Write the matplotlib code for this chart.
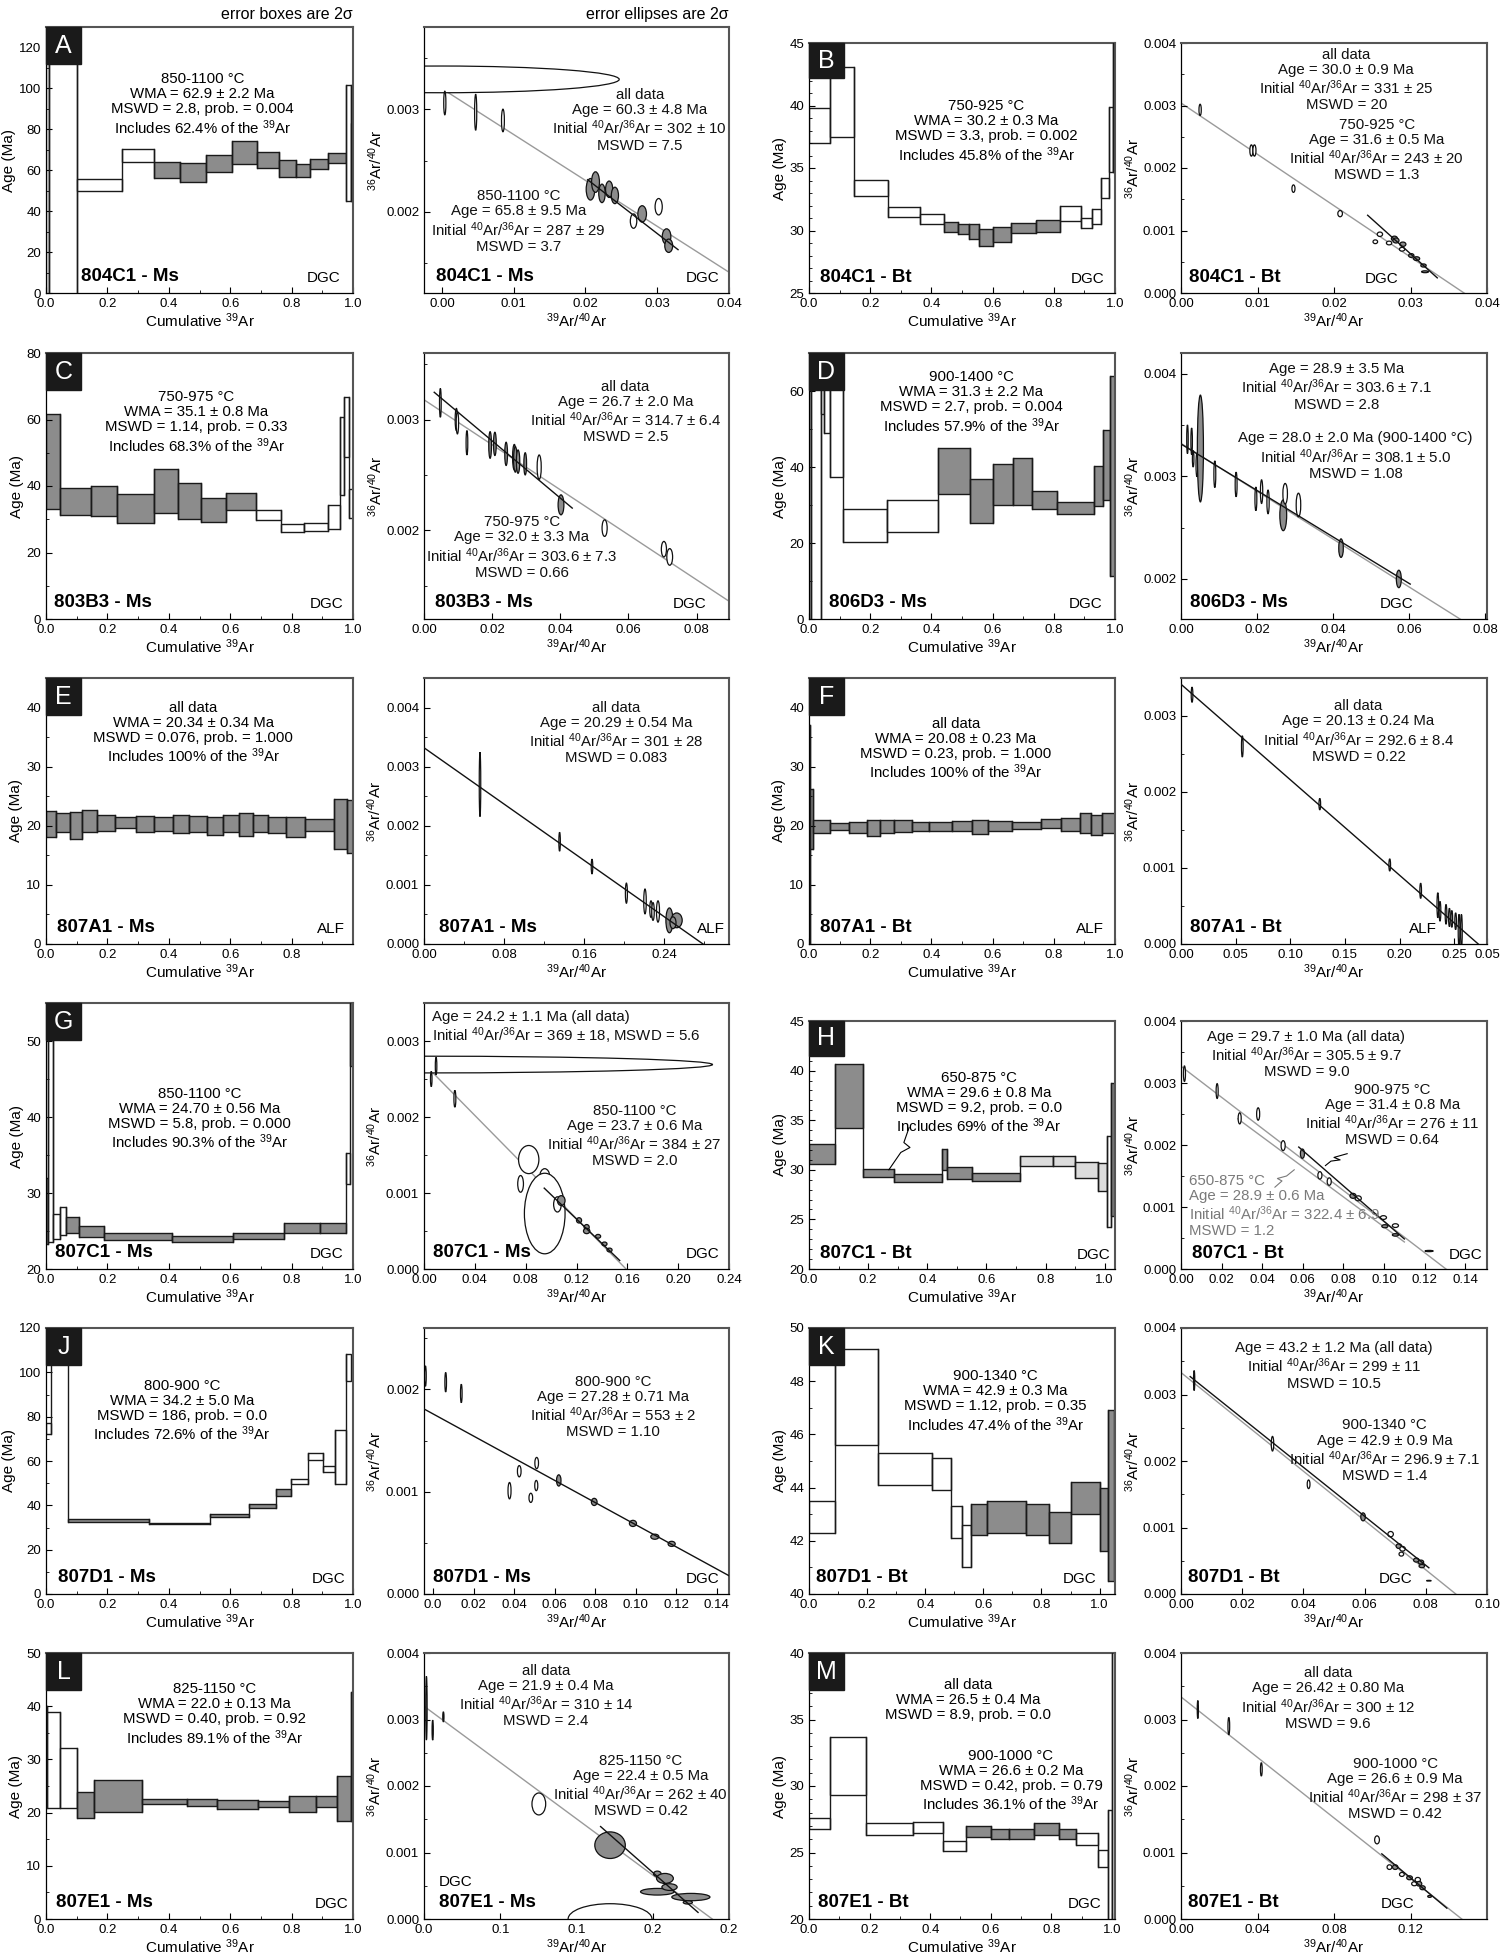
import numpy as np
import matplotlib.pyplot as plt
from matplotlib import font_manager
from matplotlib.patches import Rectangle, Ellipse
from matplotlib.ticker import MultipleLocator, FixedLocator, FixedFormatter, FormatStrFormatter

names = {f.name for f in font_manager.fontManager.ttflist}
FONT = 'Liberation Sans' if 'Liberation Sans' in names else 'DejaVu Sans'
plt.rcParams['font.family'] = [FONT, 'DejaVu Sans']
plt.rcParams['mathtext.fontset'] = 'custom'
plt.rcParams['mathtext.rm'] = FONT
plt.rcParams['mathtext.it'] = FONT
plt.rcParams['mathtext.bf'] = FONT + ':bold'
plt.rcParams['mathtext.default'] = 'regular'
plt.rcParams['xtick.direction'] = 'in'
plt.rcParams['ytick.direction'] = 'in'
plt.rcParams['xtick.labelsize'] = 9.5
plt.rcParams['ytick.labelsize'] = 9.5
plt.rcParams['xtick.major.size'] = 4
plt.rcParams['ytick.major.size'] = 4
plt.rcParams['xtick.minor.size'] = 2.5
plt.rcParams['ytick.minor.size'] = 2.5

TXT = 10.8
AXLAB = 11
SUP39 = '$^{39}$Ar'
RATIO = 'Initial $^{40}$Ar/$^{36}$Ar'

# ---------------- age spectra: step edges (cumulative 39Ar), 2 sigma box limits (Ma), fill code
A_edges = [0, 0.01, 0.10, 0.246, 0.351, 0.437, 0.52, 0.605, 0.687, 0.759, 0.814, 0.859, 0.917, 0.976, 0.992, 1.0]
A_lo = [-10, -10, 49.8, 64.2, 56.3, 54.4, 59, 63, 61.2, 56.8, 56.7, 60.4, 63.3, 44.9, 45]
A_hi = [300, 300, 55.5, 70.2, 64, 63.3, 67.3, 74.3, 68.9, 64.8, 63, 65.6, 68.6, 101.7, 83]
A_fill = [0, 0, 0, 0, 1, 1, 1, 1, 1, 1, 1, 1, 1, 0, 1]

B_edges = [0, 0.069, 0.146, 0.257, 0.362, 0.441, 0.488, 0.524, 0.556, 0.6, 0.661, 0.742, 0.82, 0.89, 0.926, 0.953, 0.981, 0.993, 1.0]
B_lo = [37.0, 37.5, 32.8, 31.1, 30.5, 29.9, 29.7, 29.3, 28.8, 29.1, 29.8, 29.9, 30.8, 30.2, 30.5, 32.6, 34.7, 34.7]
B_hi = [39.8, 43.1, 34.0, 31.9, 31.3, 30.7, 30.5, 30.5, 30.1, 30.3, 30.6, 30.8, 32.0, 31.0, 31.7, 34.2, 39.9, 60]
B_fill = [0, 0, 0, 0, 0, 1, 1, 1, 1, 1, 1, 1, 0, 0, 0, 0, 0, 0]

C_edges = [0, 0.044, 0.147, 0.232, 0.351, 0.431, 0.504, 0.586, 0.684, 0.766, 0.842, 0.918, 0.957, 0.97, 0.987, 1.0]
C_lo = [33.2, 31.2, 30.9, 28.9, 31.9, 30.0, 29.2, 32.9, 29.7, 26.1, 26.5, 27.1, 37.2, 48.8, 30.4]
C_hi = [61.6, 39.4, 40.0, 37.7, 45.1, 40.9, 36.4, 38.0, 32.9, 28.7, 29.0, 34.2, 60.9, 66.9, 39.2]
C_fill = [1, 1, 1, 1, 1, 1, 1, 1, 0, 0, 0, 0, 0, 0, 0]

D_edges = [0, 0.008, 0.04, 0.048, 0.067, 0.11, 0.255, 0.423, 0.525, 0.6, 0.668, 0.73, 0.809, 0.933, 0.961, 0.984, 1.0]
D_lo = [-10, -10, 54, 49, 37.3, 20.2, 22.8, 33, 25.3, 30, 30, 29, 27.6, 29.7, 31.4, 11.4]
D_hi = [200, 200, 200, 200, 200, 29, 31.4, 45.1, 36.9, 40.9, 42.4, 33.8, 30.8, 40.2, 49.8, 64]
D_fill = [0, 0, 0, 0, 0, 0, 0, 1, 1, 1, 1, 1, 1, 1, 1, 1]

E_edges = [0, 0.032, 0.079, 0.116, 0.166, 0.225, 0.293, 0.353, 0.415, 0.467, 0.525, 0.575, 0.629, 0.673, 0.724, 0.781, 0.845, 0.938, 0.982, 1.0]
E_lo = [18.1, 18.9, 17.8, 18.9, 19.1, 19.6, 18.9, 19.1, 18.8, 18.9, 18.4, 18.9, 18.2, 18.9, 18.8, 18.1, 19.2, 16.1, 15.4]
E_hi = [22.5, 22.1, 22.3, 22.6, 21.8, 21.5, 21.6, 21.5, 21.9, 21.7, 21.5, 21.8, 22.2, 21.9, 21.5, 21.5, 21.2, 24.6, 24.4]
E_fill = [1] * 19

F_edges = [0, 0.004, 0.012, 0.067, 0.13, 0.188, 0.232, 0.279, 0.337, 0.392, 0.467, 0.534, 0.585, 0.663, 0.757, 0.824, 0.887, 0.922, 0.958, 1.0]
F_lo = [-10, 16, 18.8, 19.3, 18.8, 18.2, 18.8, 18.9, 19.1, 19.2, 19.1, 18.6, 19.1, 19.5, 19.7, 19.2, 18.8, 18.5, 18.8]
F_hi = [37, 26.3, 20.9, 20.4, 20.6, 21.0, 21.0, 20.9, 20.7, 20.6, 20.8, 20.9, 20.8, 20.7, 21.2, 21.3, 22.2, 21.8, 22.2]
F_fill = [0] + [1] * 18

G_edges = [0, 0.005, 0.022, 0.044, 0.066, 0.108, 0.19, 0.411, 0.609, 0.775, 0.894, 0.976, 0.99, 1.0]
G_lo = [23.3, 23.6, 23.9, 24.5, 24.8, 24.2, 23.8, 23.5, 23.9, 24.8, 24.8, 31.2, 46.7]
G_hi = [32.0, 50.5, 27.2, 28.2, 26.9, 25.6, 24.7, 24.4, 24.8, 26.0, 26.0, 35.2, 60]
G_fill = [1, 0, 0, 0, 1, 1, 1, 1, 1, 1, 1, 0, 1]

H_edges = [0, 0.089, 0.184, 0.289, 0.449, 0.468, 0.553, 0.715, 0.826, 0.9, 0.976, 1.008, 1.02, 1.03]
H_lo = [30.6, 34.2, 29.3, 28.8, 30.0, 29.1, 28.9, 30.4, 30.4, 29.2, 27.9, 24.2, 25.3]
H_hi = [32.6, 40.7, 30.1, 29.6, 32.1, 30.3, 29.7, 31.4, 31.4, 30.8, 30.7, 33.4, 38.7]
H_fill = [1, 1, 1, 1, 1, 1, 1, 2, 2, 2, 2, 0, 1]

J_edges = [0, 0.016, 0.071, 0.335, 0.535, 0.661, 0.748, 0.799, 0.854, 0.902, 0.941, 0.976, 0.995]
J_lo = [72.4, 125, 32.7, 31.5, 34.9, 39, 44.3, 49.5, 60.5, 55, 49.5, 96]
J_hi = [77.2, 300, 34, 32.2, 36, 40.8, 47.3, 52, 63.8, 57.7, 73.8, 108.3]
J_fill = [0, 0, 1, 1, 1, 1, 1, 0, 0, 0, 0, 0]

K_edges = [0, 0.088, 0.237, 0.423, 0.489, 0.527, 0.556, 0.614, 0.746, 0.826, 0.9, 1.0, 1.028, 1.05]
K_lo = [42.3, 45.6, 44.1, 43.9, 42.1, 41.0, 42.2, 42.3, 42.2, 41.9, 43.0, 41.6, 40.5]
K_hi = [43.5, 49.2, 45.3, 45.1, 43.3, 42.6, 43.4, 43.5, 43.4, 43.1, 44.2, 44.0, 46.9]
K_fill = [0, 0, 0, 0, 0, 0, 1, 1, 1, 1, 1, 1, 1]

L_edges = [0, 0.004, 0.044, 0.1, 0.156, 0.314, 0.46, 0.556, 0.692, 0.79, 0.878, 0.949, 0.995, 1.0]
L_lo = [21, 20.9, 20.9, 18.9, 20.1, 21.6, 21.3, 20.7, 21.0, 20.1, 21.0, 18.4, 18.5]
L_hi = [40, 39.0, 32.2, 23.8, 26.2, 22.5, 22.6, 22.4, 22.1, 23.1, 23.1, 26.9, 42.7]
L_fill = [1, 0, 0, 1, 1, 1, 1, 1, 1, 1, 1, 1, 1]

M_edges = [0, 0.068, 0.188, 0.342, 0.443, 0.518, 0.602, 0.661, 0.742, 0.825, 0.88, 0.955, 0.987, 1.0, 1.01]
M_lo = [26.8, 29.3, 26.3, 26.5, 25.1, 26.2, 26.0, 26.0, 26.3, 26.0, 25.6, 23.9, 19.0, 19.0]
M_hi = [27.6, 33.7, 27.2, 27.3, 25.9, 27.0, 26.8, 26.8, 27.2, 26.8, 26.5, 25.2, 28.2, 45]
M_fill = [0, 0, 0, 0, 0, 1, 1, 1, 1, 1, 0, 0, 0, 0]

# ---------------- isochrons: ellipse centres, 2 sigma widths/heights, fill code; fits (y-intercept, x-intercept, x from, x to)
a_x = [0.0, 0.0004, 0.0047, 0.0085, 0.0207, 0.0214, 0.0223, 0.0233, 0.0241, 0.0279, 0.0313, 0.0316, 0.0267, 0.0302]
a_y = [0.00329, 0.00306, 0.00297, 0.00289, 0.00222, 0.00229, 0.00218, 0.00222, 0.00216, 0.00198, 0.00176, 0.00167, 0.00191, 0.00205]
a_w = [0.0494, 0.0003, 0.0003, 0.0004, 0.0012, 0.0011, 0.0009, 0.001, 0.001, 0.0012, 0.0012, 0.0011, 0.0009, 0.001]
a_h = [0.00026, 0.00023, 0.00035, 0.00022, 0.00021, 0.0002, 0.00018, 0.00016, 0.00016, 0.00016, 0.00015, 0.00013, 0.00014, 0.00016]
a_f = [0, 0, 0, 0, 1, 1, 1, 1, 1, 1, 1, 1, 0, 0]
a_fit = [(0.0032, 0.0716, -0.003, 0.04), (0.00341, 0.0631, 0.0203, 0.0329)]
a_kind = [0, 1]

b_x = [0.0025, 0.0092, 0.0096, 0.0147, 0.0208, 0.0254, 0.026, 0.0272, 0.0279, 0.0281, 0.0289, 0.029, 0.0301, 0.0308, 0.0317, 0.0319]
b_y = [0.00293, 0.00228, 0.00228, 0.00167, 0.00127, 0.00082, 0.00094, 0.0008, 0.00087, 0.00084, 0.0007, 0.00078, 0.0006, 0.00055, 0.00044, 0.00034]
b_w = [0.0003, 0.0004, 0.0004, 0.0004, 0.0006, 0.0006, 0.0007, 0.0007, 0.0008, 0.0008, 0.0007, 0.0008, 0.0007, 0.0008, 0.0007, 0.0009]
b_h = [0.00018, 0.00018, 0.00018, 0.00012, 0.0001, 0.00006, 0.00007, 0.00006, 0.00008, 0.00008, 0.00006, 0.00007, 0.00006, 0.00006, 0.00005, 0.00003]
b_f = [0, 0, 0, 0, 0, 0, 0, 0, 1, 1, 0, 1, 1, 1, 1, 1]
b_fit = [(0.00304, 0.037, 0, 0.04), (0.00393, 0.0357, 0.0244, 0.0335)]
b_kind = [0, 1]

c_x = [0.0048, 0.0095, 0.0098, 0.0126, 0.0194, 0.0208, 0.0241, 0.0265, 0.0268, 0.0276, 0.0297, 0.0338, 0.0402, 0.053, 0.0704, 0.0721]
c_y = [0.00315, 0.0030, 0.00297, 0.00279, 0.00277, 0.00278, 0.00269, 0.00266, 0.00264, 0.00262, 0.0026, 0.00257, 0.00223, 0.00202, 0.00183, 0.00176]
c_w = [0.0005, 0.0007, 0.0007, 0.0005, 0.0008, 0.0008, 0.0008, 0.001, 0.001, 0.001, 0.0008, 0.0012, 0.0017, 0.0015, 0.0015, 0.0017]
c_h = [0.00026, 0.0002, 0.0002, 0.00022, 0.00024, 0.00021, 0.00021, 0.00023, 0.00023, 0.00021, 0.0002, 0.00022, 0.00018, 0.00015, 0.00014, 0.00015]
c_f = [0, 0, 0, 0, 1, 1, 1, 1, 1, 1, 1, 0, 1, 0, 0, 0]
c_fit = [(0.003178, 0.1565, 0, 0.09), (0.003323, 0.1288, 0.003, 0.0435)]
c_kind = [0, 1]

d_x = [0.0017, 0.0028, 0.0032, 0.0042, 0.0051, 0.0089, 0.0145, 0.0197, 0.0212, 0.0229, 0.0269, 0.0274, 0.0309, 0.0421, 0.0573]
d_y = [0.00336, 0.00334, 0.00317, 0.00311, 0.00327, 0.00302, 0.00292, 0.00278, 0.00285, 0.00275, 0.00262, 0.00283, 0.00272, 0.0023, 0.0020]
d_w = [0.0004, 0.0004, 0.0004, 0.0005, 0.0016, 0.0005, 0.0005, 0.0005, 0.0006, 0.0006, 0.0018, 0.0012, 0.0012, 0.0012, 0.0013]
d_h = [0.00028, 0.00026, 0.00016, 0.00023, 0.00104, 0.00026, 0.00024, 0.00023, 0.00023, 0.00023, 0.0003, 0.0002, 0.00023, 0.00018, 0.00017]
d_f = [0, 0, 0, 0, 1, 0, 0, 0, 0, 0, 1, 0, 0, 1, 1]
d_fit = [(0.00332, 0.1425, 0, 0.081), (0.003314, 0.1465, 0, 0.0603)]
d_kind = [0, 1]

e_x = [0.056, 0.1356, 0.168, 0.2024, 0.221, 0.227, 0.229, 0.234, 0.2454, 0.2527, 0.249]
e_y = [0.0027, 0.00173, 0.00131, 0.00086, 0.00072, 0.00059, 0.00055, 0.00055, 0.0004, 0.0004, 0.00036]
e_w = [0.0015, 0.0015, 0.0015, 0.002, 0.0025, 0.0025, 0.0025, 0.003, 0.007, 0.011, 0.006]
e_h = [0.00109, 0.00032, 0.00025, 0.00034, 0.00042, 0.00028, 0.0003, 0.00036, 0.00042, 0.00025, 0.0002]
e_f = [0, 0, 0, 0, 0, 0, 0, 0, 1, 1, 1]
e_fit = [(0.00332, 0.279, 0, 0.305)]
e_kind = [1]

f_x = [0.0101, 0.0561, 0.127, 0.191, 0.2193, 0.235, 0.237, 0.2425, 0.2456, 0.2478, 0.2513, 0.2544, 0.2566]
f_y = [0.00328, 0.0026, 0.00184, 0.00104, 0.0007, 0.00051, 0.00043, 0.00039, 0.00035, 0.00033, 0.0003, 0.00018, 0.00017]
f_w = [0.0015] * 13
f_h = [0.0002, 0.00028, 0.00015, 0.00016, 0.0002, 0.00033, 0.00026, 0.00026, 0.00024, 0.00022, 0.00022, 0.00042, 0.00044]
f_f = [0] * 13
f_fit = [(0.003418, 0.272, 0, 0.28)]
f_kind = [1]

g_x = [0.0, 0.0095, 0.0057, 0.0243, 0.0824, 0.076, 0.095, 0.095, 0.105, 0.108, 0.122, 0.128, 0.128, 0.137, 0.142, 0.146]
g_y = [0.00269, 0.00267, 0.0025, 0.00224, 0.00144, 0.00112, 0.00121, 0.00073, 0.00085, 0.0009, 0.00064, 0.00055, 0.0005, 0.00043, 0.00033, 0.00025]
g_w = [0.454, 0.0012, 0.0012, 0.0015, 0.016, 0.0045, 0.008, 0.032, 0.006, 0.006, 0.004, 0.004, 0.005, 0.004, 0.004, 0.004]
g_h = [0.00022, 0.00023, 0.0002, 0.00022, 0.00037, 0.00022, 0.00022, 0.00106, 0.0002, 0.00013, 0.00007, 0.00007, 0.00007, 0.00005, 0.00005, 0.00005]
g_f = [0, 0, 0, 0, 0, 0, 0, 0, 0, 1, 1, 1, 1, 1, 1, 1]
g_fit = [(0.0027, 0.159, 0, 0.24), (0.00258, 0.161, 0.0946, 0.154)]
g_kind = [0, 1]

h_x = [0.0017, 0.0178, 0.0289, 0.038, 0.0503, 0.0598, 0.0684, 0.073, 0.0847, 0.0873, 0.0997, 0.1004, 0.1056, 0.1056, 0.1222]
h_y = [0.00315, 0.00287, 0.00243, 0.0025, 0.00199, 0.00186, 0.00151, 0.00141, 0.00118, 0.00114, 0.00083, 0.00069, 0.0007, 0.00055, 0.00029]
h_w = [0.001, 0.001, 0.0015, 0.0015, 0.002, 0.002, 0.002, 0.002, 0.003, 0.003, 0.003, 0.003, 0.003, 0.003, 0.004]
h_h = [0.00025, 0.00024, 0.00018, 0.0002, 0.00016, 0.00015, 0.00012, 0.00012, 0.00008, 0.00008, 0.00006, 0.00005, 0.00006, 0.00004, 0.00002]
h_f = [0, 0, 0, 0, 0, 1, 0, 0, 1, 0, 0, 1, 0, 1, 0]
h_fit = [(0.00327, 0.1305, 0, 0.15), (0.0031, 0.128, 0.028, 0.11), (0.00362, 0.127, 0.058, 0.11)]
h_kind = [0, 0, 1]

j_x = [-0.0038, 0.0062, 0.0139, 0.0377, 0.0425, 0.0482, 0.0509, 0.0511, 0.062, 0.0795, 0.0986, 0.1094, 0.1177]
j_y = [0.00213, 0.00207, 0.00196, 0.00101, 0.0012, 0.00094, 0.00106, 0.00128, 0.00111, 0.0009, 0.00069, 0.00056, 0.00049]
j_w = [0.0008, 0.0008, 0.0008, 0.0015, 0.0018, 0.0018, 0.0015, 0.0018, 0.0022, 0.0028, 0.0035, 0.004, 0.0035]
j_h = [0.0002, 0.00019, 0.00018, 0.00016, 0.00011, 0.00009, 0.0001, 0.00011, 0.00011, 0.00007, 0.00006, 0.00005, 0.00005]
j_f = [0, 0, 0, 0, 0, 0, 0, 0, 1, 1, 1, 1, 1]
j_fit = [(0.00176, 0.1625, -0.0045, 0.146)]
j_kind = [1]

k_x = [0.0043, 0.0299, 0.0417, 0.0595, 0.0685, 0.0712, 0.0724, 0.072, 0.0769, 0.0784, 0.0787, 0.081]
k_y = [0.00321, 0.00226, 0.00165, 0.00116, 0.0009, 0.00072, 0.00068, 0.0006, 0.00051, 0.00048, 0.00042, 0.0002]
k_w = [0.0004, 0.0008, 0.0009, 0.0015, 0.0018, 0.0018, 0.0018, 0.0015, 0.0018, 0.0018, 0.0018, 0.0015]
k_h = [0.0003, 0.00022, 0.00013, 0.00012, 0.00008, 0.00007, 0.00007, 0.00006, 0.00006, 0.00006, 0.00005, 0.00001]
k_f = [0, 0, 0, 1, 0, 1, 0, 0, 1, 1, 1, 1]
k_fit = [(0.00333, 0.0898, 0, 0.1), (0.00338, 0.0917, 0.003, 0.081)]
k_kind = [0, 1]

l_x = [0.0016, 0.0057, 0.0127, 0.0753, 0.122, 0.153, 0.158, 0.153, 0.161, 0.175, 0.173, 0.122]
l_y = [0.00317, 0.00284, 0.00304, 0.00173, 0.00111, 0.00068, 0.00061, 0.00041, 0.00048, 0.00033, 0.00025, 0.0]
l_w = [0.0009, 0.0008, 0.0008, 0.009, 0.02, 0.005, 0.011, 0.022, 0.01, 0.025, 0.006, 0.055]
l_h = [0.00096, 0.0003, 0.00015, 0.00033, 0.0004, 0.00008, 0.00015, 0.0001, 0.0001, 0.00011, 0.00005, 0.00046]
l_f = [0, 0, 0, 0, 1, 1, 1, 1, 1, 1, 1, 0]
l_fit = [(0.0032, 0.189, 0, 0.2), (0.00373, 0.1846, 0.1158, 0.1797)]
l_kind = [0, 1]

m_x = [0.0088, 0.025, 0.042, 0.1025, 0.109, 0.112, 0.1155, 0.1195, 0.122, 0.1238, 0.1245, 0.1263, 0.13]
m_y = [0.00315, 0.0029, 0.00225, 0.00119, 0.00078, 0.00078, 0.00067, 0.00062, 0.00053, 0.00059, 0.00053, 0.00047, 0.00034]
m_w = [0.0006, 0.0009, 0.0009, 0.0025, 0.0025, 0.0028, 0.0025, 0.003, 0.0028, 0.0028, 0.0028, 0.0028, 0.002]
m_h = [0.00027, 0.00026, 0.0002, 0.00012, 0.00007, 0.00007, 0.00006, 0.00006, 0.00006, 0.00007, 0.00007, 0.00006, 0.00003]
m_f = [0, 0, 0, 0, 0, 1, 0, 1, 0, 0, 1, 1, 1]
m_fit = [(0.00334, 0.1468, 0, 0.16), (0.0035, 0.1458, 0.105, 0.139)]
m_kind = [0, 1]

# ---------------- panel texts
A_txt = '850-1100 °C\nWMA = 62.9 ± 2.2 Ma\nMSWD = 2.8, prob. = 0.004\nIncludes 62.4% of the ' + SUP39
a_txt1 = 'all data\nAge = 60.3 ± 4.8 Ma\n' + RATIO + ' = 302 ± 10\nMSWD = 7.5'
a_txt2 = '850-1100 °C\nAge = 65.8 ± 9.5 Ma\n' + RATIO + ' = 287 ± 29\nMSWD = 3.7'
B_txt = '750-925 °C\nWMA = 30.2 ± 0.3 Ma\nMSWD = 3.3, prob. = 0.002\nIncludes 45.8% of the ' + SUP39
b_txt1 = 'all data\nAge = 30.0 ± 0.9 Ma\n' + RATIO + ' = 331 ± 25\nMSWD = 20'
b_txt2 = '750-925 °C\nAge = 31.6 ± 0.5 Ma\n' + RATIO + ' = 243 ± 20\nMSWD = 1.3'
C_txt = '750-975 °C\nWMA = 35.1 ± 0.8 Ma\nMSWD = 1.14, prob. = 0.33\nIncludes 68.3% of the ' + SUP39
c_txt1 = 'all data\nAge = 26.7 ± 2.0 Ma\n' + RATIO + ' = 314.7 ± 6.4\nMSWD = 2.5'
c_txt2 = '750-975 °C\nAge = 32.0 ± 3.3 Ma\n' + RATIO + ' = 303.6 ± 7.3\nMSWD = 0.66'
D_txt = '900-1400 °C\nWMA = 31.3 ± 2.2 Ma\nMSWD = 2.7, prob. = 0.004\nIncludes 57.9% of the ' + SUP39
d_txt1 = 'Age = 28.9 ± 3.5 Ma\n' + RATIO + ' = 303.6 ± 7.1\nMSWD = 2.8'
d_txt2 = 'Age = 28.0 ± 2.0 Ma (900-1400 °C)\n' + RATIO + ' = 308.1 ± 5.0\nMSWD = 1.08'
E_txt = 'all data\nWMA = 20.34 ± 0.34 Ma\nMSWD = 0.076, prob. = 1.000\nIncludes 100% of the ' + SUP39
e_txt1 = 'all data\nAge = 20.29 ± 0.54 Ma\n' + RATIO + ' = 301 ± 28\nMSWD = 0.083'
F_txt = 'all data\nWMA = 20.08 ± 0.23 Ma\nMSWD = 0.23, prob. = 1.000\nIncludes 100% of the ' + SUP39
f_txt1 = 'all data\nAge = 20.13 ± 0.24 Ma\n' + RATIO + ' = 292.6 ± 8.4\nMSWD = 0.22'
G_txt = '850-1100 °C\nWMA = 24.70 ± 0.56 Ma\nMSWD = 5.8, prob. = 0.000\nIncludes 90.3% of the ' + SUP39
g_txt1 = 'Age = 24.2 ± 1.1 Ma (all data)\n' + RATIO + ' = 369 ± 18, MSWD = 5.6'
g_txt2 = '850-1100 °C\nAge = 23.7 ± 0.6 Ma\n' + RATIO + ' = 384 ± 27\nMSWD = 2.0'
H_txt = '650-875 °C\nWMA = 29.6 ± 0.8 Ma\nMSWD = 9.2, prob. = 0.0\nIncludes 69% of the ' + SUP39
h_txt1 = 'Age = 29.7 ± 1.0 Ma (all data)\n' + RATIO + ' = 305.5 ± 9.7\nMSWD = 9.0'
h_txt2 = '900-975 °C\nAge = 31.4 ± 0.8 Ma\n' + RATIO + ' = 276 ± 11\nMSWD = 0.64'
h_txt3 = '650-875 °C\nAge = 28.9 ± 0.6 Ma\n' + RATIO + ' = 322.4 ± 6.9\nMSWD = 1.2'
J_txt = '800-900 °C\nWMA = 34.2 ± 5.0 Ma\nMSWD = 186, prob. = 0.0\nIncludes 72.6% of the ' + SUP39
j_txt1 = '800-900 °C\nAge = 27.28 ± 0.71 Ma\n' + RATIO + ' = 553 ± 2\nMSWD = 1.10'
K_txt = '900-1340 °C\nWMA = 42.9 ± 0.3 Ma\nMSWD = 1.12, prob. = 0.35\nIncludes 47.4% of the ' + SUP39
k_txt1 = 'Age = 43.2 ± 1.2 Ma (all data)\n' + RATIO + ' = 299 ± 11\nMSWD = 10.5'
k_txt2 = '900-1340 °C\nAge = 42.9 ± 0.9 Ma\n' + RATIO + ' = 296.9 ± 7.1\nMSWD = 1.4'
L_txt = '825-1150 °C\nWMA = 22.0 ± 0.13 Ma\nMSWD = 0.40, prob. = 0.92\nIncludes 89.1% of the ' + SUP39
l_txt1 = 'all data\nAge = 21.9 ± 0.4 Ma\n' + RATIO + ' = 310 ± 14\nMSWD = 2.4'
l_txt2 = '825-1150 °C\nAge = 22.4 ± 0.5 Ma\n' + RATIO + ' = 262 ± 40\nMSWD = 0.42'
M_txt1 = 'all data\nWMA = 26.5 ± 0.4 Ma\nMSWD = 8.9, prob. = 0.0'
M_txt2 = '900-1000 °C\nWMA = 26.6 ± 0.2 Ma\nMSWD = 0.42, prob. = 0.79\nIncludes 36.1% of the ' + SUP39
m_txt1 = 'all data\nAge = 26.42 ± 0.80 Ma\n' + RATIO + ' = 300 ± 12\nMSWD = 9.6'
m_txt2 = '900-1000 °C\nAge = 26.6 ± 0.9 Ma\n' + RATIO + ' = 298 ± 37\nMSWD = 0.42'

GRAY = '#8c8c8c'
FILLS = ['white', GRAY, '#dcdcdc']
EDGE = '#1a1a1a'

W, H = 1507, 1952
fig = plt.figure(figsize=(W / 100, H / 100), dpi=100)
cols = [(46, 353), (424, 729), (809, 1115), (1181, 1487)]
tops = [27, 353, 678, 1003, 1328, 1653]
BOT = 266


def make_ax(c, r, drop=0):
    l, rr = cols[c]
    t = tops[r] + drop
    b = tops[r] + BOT
    return fig.add_axes([l / W, 1 - b / H, (rr - l) / W, (b - t) / H])


def frame(ax):
    for s in ['left', 'bottom']:
        ax.spines[s].set_linewidth(0.9)
    for s in ['top', 'right']:
        ax.spines[s].set_linewidth(1.5)
        ax.spines[s].set_color('#555555')
    ax.tick_params(which='both', top=False, right=False)


def labels(ax, sample, site, sx, dx, dy=0.04, dha='right'):
    ax.text(sx, 0.045, sample, transform=ax.transAxes, fontsize=13.5, fontweight='bold', zorder=6)
    ax.text(dx, dy, site, transform=ax.transAxes, fontsize=11, ha=dha, zorder=6)


def spectrum(ax, edges, lo, hi, fill, ylim, ymaj, ymin, xmax, letter, sample, site, sx, dx, texts, xlab_max=1.0):
    for i in range(len(lo)):
        ax.add_patch(Rectangle((edges[i], lo[i]), edges[i + 1] - edges[i], hi[i] - lo[i],
                               facecolor=FILLS[fill[i]], edgecolor=EDGE, lw=1.0))
    # the step outline is continuous: join neighbouring steps
    for i in range(1, len(lo)):
        ax.plot([edges[i], edges[i]], [min(lo[i - 1], lo[i]), max(hi[i - 1], hi[i])], color=EDGE, lw=1.0, zorder=3)
    ax.set_xlim(0, xmax)
    ax.set_ylim(*ylim)
    ax.yaxis.set_major_locator(MultipleLocator(ymaj))
    ax.yaxis.set_minor_locator(MultipleLocator(ymin))
    xt = np.round(np.arange(0, xlab_max + 0.001, 0.2), 1)
    ax.xaxis.set_major_locator(FixedLocator(xt))
    ax.xaxis.set_major_formatter(FixedFormatter(['%.1f' % v for v in xt]))
    ax.xaxis.set_minor_locator(MultipleLocator(0.1))
    ax.set_ylabel('Age (Ma)', fontsize=AXLAB, labelpad=2)
    ax.set_xlabel('Cumulative ' + SUP39, fontsize=AXLAB, labelpad=1)
    frame(ax)
    ax.add_patch(Rectangle((0, 0.86), 0.114, 0.14, transform=ax.transAxes, color=EDGE, zorder=7, clip_on=False))
    ax.text(0.057, 0.93, letter, transform=ax.transAxes, color='white', fontsize=18,
            ha='center', va='center', zorder=8)
    labels(ax, sample, site, sx, dx)
    for s, x, y in texts:
        ax.text(x, y, s, transform=ax.transAxes, ha='center', va='top', fontsize=TXT, linespacing=1.1, zorder=6)


def isochron(ax, x, y, w, h, f, fits, kinds, xlim, ylim, xt, xl, yt, sample, site, sx, dx, texts, dy=0.04, dha='right'):
    for fi, k in zip(fits, kinds):
        xs = np.array([fi[2], fi[3]])
        ax.plot(xs, fi[0] * (1 - xs / fi[1]), color=['#9a9a9a', '#111111'][k], lw=1.0, zorder=[1, 3][k])
    for i in range(len(x)):
        ax.add_patch(Ellipse((x[i], y[i]), w[i], h[i], facecolor=FILLS[f[i]], edgecolor='#111111', lw=0.9, zorder=2))
    ax.set_xlim(*xlim)
    ax.set_ylim(*ylim)
    ax.xaxis.set_major_locator(FixedLocator(xt))
    ax.xaxis.set_major_formatter(FixedFormatter(xl))
    ax.yaxis.set_major_locator(FixedLocator(yt))
    ax.yaxis.set_major_formatter(FormatStrFormatter('%.3f'))
    ax.yaxis.set_minor_locator(MultipleLocator(0.0005))
    ax.set_ylabel('$^{36}$Ar/$^{40}$Ar', fontsize=AXLAB, labelpad=1)
    ax.set_xlabel('$^{39}$Ar/$^{40}$Ar', fontsize=AXLAB, labelpad=1)
    frame(ax)
    labels(ax, sample, site, sx, dx, dy, dha)
    for s, tx, ty, ha, col in texts:
        ax.text(tx, ty, s, transform=ax.transAxes, ha=ha, va='top', fontsize=TXT, linespacing=1.1, color=col, zorder=6)


def lab(vals, fmt):
    return [fmt % v for v in vals]


K_ = '#111111'
G_ = '#7a7a7a'
yt = [0, 0.001, 0.002, 0.003, 0.004]

# row 1
ax = make_ax(0, 0)
spectrum(ax, A_edges, A_lo, A_hi, A_fill, (0, 130), 20, 10, 1.0, 'A', '804C1 - Ms', 'DGC', 0.115, 0.96, [(A_txt, 0.51, 0.83)])
ax.text(1.0, 1.02, 'error boxes are 2σ', transform=ax.transAxes, ha='right', va='bottom', fontsize=11.5)
ax = make_ax(1, 0)
xt = [0, 0.01, 0.02, 0.03, 0.04]
isochron(ax, a_x, a_y, a_w, a_h, a_f, a_fit, a_kind, (-0.0025, 0.04), (0.00121, 0.0038), xt, lab(xt, '%.2f'), [0.002, 0.003],
         '804C1 - Ms', 'DGC', 0.04, 0.97, [(a_txt1, 0.707, 0.77, 'center', K_), (a_txt2, 0.31, 0.39, 'center', K_)])
ax.text(1.0, 1.02, 'error ellipses are 2σ', transform=ax.transAxes, ha='right', va='bottom', fontsize=11.5)
ax = make_ax(2, 0, drop=16)
spectrum(ax, B_edges, B_lo, B_hi, B_fill, (25, 45), 5, 1, 1.0, 'B', '804C1 - Bt', 'DGC', 0.036, 0.965, [(B_txt, 0.58, 0.775)])
ax = make_ax(3, 0, drop=16)
isochron(ax, b_x, b_y, b_w, b_h, b_f, b_fit, b_kind, (0, 0.04), (0, 0.004), xt, lab(xt, '%.2f'), yt,
         '804C1 - Bt', 'DGC', 0.025, 0.71, [(b_txt1, 0.54, 0.98, 'center', K_), (b_txt2, 0.64, 0.70, 'center', K_)])

# row 2
ax = make_ax(0, 1)
spectrum(ax, C_edges, C_lo, C_hi, C_fill, (0, 80), 20, 10, 1.0, 'C', '803B3 - Ms', 'DGC', 0.025, 0.97, [(C_txt, 0.49, 0.86)])
ax = make_ax(1, 1)
xt = [0, 0.02, 0.04, 0.06, 0.08]
isochron(ax, c_x, c_y, c_w, c_h, c_f, c_fit, c_kind, (0, 0.0895), (0.0012, 0.0036), xt, lab(xt, '%.2f'), [0.002, 0.003],
         '803B3 - Ms', 'DGC', 0.035, 0.925, [(c_txt1, 0.66, 0.90, 'center', K_), (c_txt2, 0.32, 0.39, 'center', K_)])
ax = make_ax(2, 1)
spectrum(ax, D_edges, D_lo, D_hi, D_fill, (0, 70), 20, 10, 1.0, 'D', '806D3 - Ms', 'DGC', 0.064, 0.96, [(D_txt, 0.53, 0.935)])
ax = make_ax(3, 1)
isochron(ax, d_x, d_y, d_w, d_h, d_f, d_fit, d_kind, (0, 0.0805), (0.00161, 0.0042), xt, lab(xt, '%.2f'), [0.002, 0.003, 0.004],
         '806D3 - Ms', 'DGC', 0.03, 0.76, [(d_txt1, 0.51, 0.965, 'center', K_), (d_txt2, 0.57, 0.705, 'center', K_)])

# row 3
ax = make_ax(0, 2)
spectrum(ax, E_edges, E_lo, E_hi, E_fill, (0, 45), 10, 5, 1.0, 'E', '807A1 - Ms', 'ALF', 0.036, 0.973, [(E_txt, 0.48, 0.915)], xlab_max=0.8)
ax = make_ax(1, 2)
xt = [0, 0.08, 0.16, 0.24]
isochron(ax, e_x, e_y, e_w, e_h, e_f, e_fit, e_kind, (0, 0.305), (0, 0.0045), xt, lab(xt, '%.2f'), yt,
         '807A1 - Ms', 'ALF', 0.05, 0.987, [(e_txt1, 0.63, 0.915, 'center', K_)])
ax.xaxis.set_minor_locator(MultipleLocator(0.04))
ax = make_ax(2, 2)
spectrum(ax, F_edges, F_lo, F_hi, F_fill, (0, 45), 10, 5, 1.0, 'F', '807A1 - Bt', 'ALF', 0.036, 0.964, [(F_txt, 0.48, 0.855)])
ax = make_ax(3, 2)
xt = [0, 0.05, 0.10, 0.15, 0.20, 0.25, 0.28]
isochron(ax, f_x, f_y, f_w, f_h, f_f, f_fit, f_kind, (0, 0.28), (0, 0.0035), xt, lab(xt[:-1], '%.2f') + ['0.05'], yt[:4],
         '807A1 - Bt', 'ALF', 0.03, 0.835, [(f_txt1, 0.58, 0.92, 'center', K_)])

# row 4
ax = make_ax(0, 3)
spectrum(ax, G_edges, G_lo, G_hi, G_fill, (20, 55), 10, 5, 1.0, 'G', '807C1 - Ms', 'DGC', 0.028, 0.97, [(G_txt, 0.50, 0.685)])
ax = make_ax(1, 3)
xt = [0, 0.04, 0.08, 0.12, 0.16, 0.20, 0.24]
isochron(ax, g_x, g_y, g_w, g_h, g_f, g_fit, g_kind, (0, 0.24), (0, 0.0035), xt, lab(xt, '%.2f'), yt[:4],
         '807C1 - Ms', 'DGC', 0.03, 0.97, [(g_txt1, 0.027, 0.975, 'left', K_), (g_txt2, 0.69, 0.62, 'center', K_)])
ax = make_ax(2, 3, drop=18)
spectrum(ax, H_edges, H_lo, H_hi, H_fill, (20, 45), 5, 1, 1.035, 'H', '807C1 - Bt', 'DGC', 0.036, 0.985, [(H_txt, 0.555, 0.80)])
ax.plot([0.327, 0.31, 0.33, 0.30, 0.261], [0.57, 0.51, 0.49, 0.47, 0.40], transform=ax.transAxes, color='k', lw=0.8)
ax = make_ax(3, 3, drop=18)
xt = [0, 0.02, 0.04, 0.06, 0.08, 0.10, 0.12, 0.14]
isochron(ax, h_x, h_y, h_w, h_h, h_f, h_fit, h_kind, (0, 0.1507), (0, 0.004), xt, lab(xt, '%.2f'), yt,
         '807C1 - Bt', 'DGC', 0.036, 0.985,
         [(h_txt1, 0.41, 0.965, 'center', K_), (h_txt2, 0.69, 0.75, 'center', K_), (h_txt3, 0.025, 0.385, 'left', G_)])
ax.plot([0.543, 0.50, 0.52, 0.49, 0.472], [0.465, 0.45, 0.44, 0.435, 0.417], transform=ax.transAxes, color='k', lw=0.8)
ax.plot([0.307, 0.33, 0.315, 0.345, 0.37], [0.33, 0.355, 0.365, 0.375, 0.40], transform=ax.transAxes, color=G_, lw=0.8)

# row 5
ax = make_ax(0, 4)
spectrum(ax, J_edges, J_lo, J_hi, J_fill, (0, 120), 20, 10, 1.0, 'J', '807D1 - Ms', 'DGC', 0.04, 0.975, [(J_txt, 0.443, 0.81)])
ax = make_ax(1, 4)
xt = [0, 0.02, 0.04, 0.06, 0.08, 0.10, 0.12, 0.14]
isochron(ax, j_x, j_y, j_w, j_h, j_f, j_fit, j_kind, (-0.0045, 0.146), (0, 0.0026), xt, ['0.0'] + lab(xt[1:], '%.2f'), [0, 0.001, 0.002],
         '807D1 - Ms', 'DGC', 0.03, 0.97, [(j_txt1, 0.62, 0.825, 'center', K_)])
ax = make_ax(2, 4)
spectrum(ax, K_edges, K_lo, K_hi, K_fill, (40, 50), 2, 1, 1.053, 'K', '807D1 - Bt', 'DGC', 0.024, 0.94, [(K_txt, 0.61, 0.845)])
ax = make_ax(3, 4)
xt = [0, 0.02, 0.04, 0.06, 0.08, 0.10]
isochron(ax, k_x, k_y, k_w, k_h, k_f, k_fit, k_kind, (0, 0.1), (0, 0.004), xt, lab(xt, '%.2f'), yt,
         '807D1 - Bt', 'DGC', 0.024, 0.755, [(k_txt1, 0.5, 0.95, 'center', K_), (k_txt2, 0.665, 0.66, 'center', K_)])

# row 6
ax = make_ax(0, 5)
spectrum(ax, L_edges, L_lo, L_hi, L_fill, (0, 50), 10, 5, 1.0, 'L', '807E1 - Ms', 'DGC', 0.033, 0.985, [(L_txt, 0.55, 0.89)])
ax = make_ax(1, 5)
xt = [0, 0.05, 0.10, 0.15, 0.20]
isochron(ax, l_x, l_y, l_w, l_h, l_f, l_fit, l_kind, (0, 0.2), (0, 0.004), xt, ['0.0', '0.1', '0.1', '0.2', '0.2'], yt,
         '807E1 - Ms', 'DGC', 0.05, 0.05, [(l_txt1, 0.40, 0.96, 'center', K_), (l_txt2, 0.71, 0.62, 'center', K_)],
         dy=0.125, dha='left')
ax = make_ax(2, 5)
spectrum(ax, M_edges, M_lo, M_hi, M_fill, (20, 40), 5, 1, 1.01, 'M', '807E1 - Bt', 'DGC', 0.028, 0.955,
         [(M_txt1, 0.52, 0.905), (M_txt2, 0.66, 0.64)])
ax = make_ax(3, 5)
xt = [0, 0.04, 0.08, 0.12]
isochron(ax, m_x, m_y, m_w, m_h, m_f, m_fit, m_kind, (0, 0.16), (0, 0.004), xt, lab(xt, '%.2f'), yt,
         '807E1 - Bt', 'DGC', 0.024, 0.764, [(m_txt1, 0.48, 0.95, 'center', K_), (m_txt2, 0.70, 0.61, 'center', K_)])

fig.savefig('out.png', dpi=100)
